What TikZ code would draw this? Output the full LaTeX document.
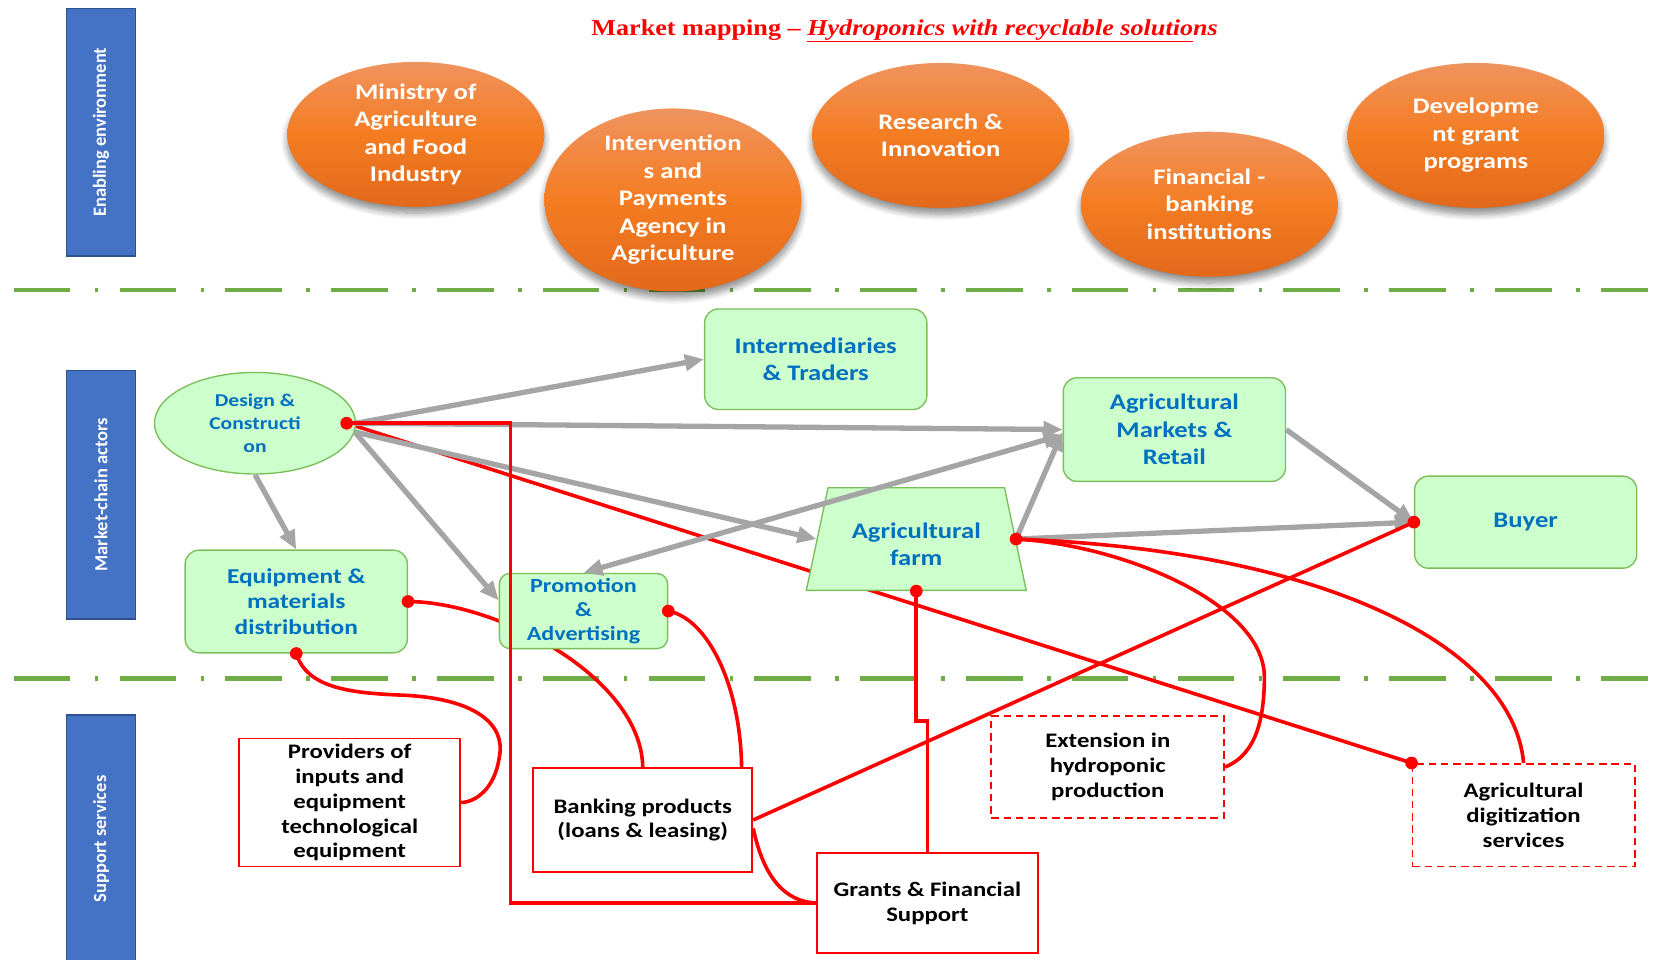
\documentclass[tikz,border=0pt]{standalone}
\usepackage{fontspec}
\usetikzlibrary{shapes.geometric,arrows.meta,shadows,shadows.blur,backgrounds,calc}
\newfontfamily\calib{Carlito}[FakeStretch=1.2]
\newfontfamily\calibn{Carlito}
\newfontfamily\titlefont{Liberation Serif}[FakeStretch=1.15]

\definecolor{barblue}{HTML}{4472C4}
\definecolor{barline}{HTML}{2F528F}
\definecolor{sepgreen}{HTML}{70AD47}
\definecolor{actfill}{HTML}{CCFFCC}
\definecolor{actline}{HTML}{7CBF5A}
\definecolor{acttext}{HTML}{0070C0}
\definecolor{linkgray}{HTML}{A5A5A5}
\definecolor{linkred}{HTML}{FF0000}
\definecolor{ortop}{HTML}{F0935E}
\definecolor{ormid}{HTML}{F47C22}
\definecolor{orbot}{HTML}{E2691B}

\tikzset{
  bar/.style={draw=barline, line width=1.5pt, fill=barblue, rotate=90,
    minimum height=65, inner sep=0, text=white,
    font=\calibn\bfseries\fontsize{17.5}{21}\selectfont},
  sepline/.style={draw=sepgreen, line width=4.5pt,
    dash pattern=on 53.5pt off 23pt on 3.5pt off 20pt},
  heading/.style={text=linkred, font=\titlefont\bfseries\fontsize{21.5}{25}\selectfont},
  envell/.style={ellipse, minimum width=243, minimum height=137, inner sep=0,
    top color=ortop, bottom color=orbot, middle color=ormid,
    text=white, align=center, font=\calib\bfseries\fontsize{21}{26}\selectfont,
    blur shadow={shadow xshift=0pt, shadow yshift=-6pt, shadow blur radius=6pt,
      shadow opacity=45, shadow blur steps=8}},
  actor/.style={draw=actline, line width=1.3pt, fill=actfill, text=acttext,
    align=center, inner sep=0, font=\calib\bfseries\fontsize{21}{26}\selectfont},
  actbox/.style={actor, rectangle, rounded corners=13pt},
  actell/.style={actor, ellipse, minimum width=190, minimum height=96,
    font=\calib\bfseries\fontsize{17}{22}\selectfont},
  actfarm/.style={actor, trapezium, trapezium angle=73.9, trapezium stretches=true,
    minimum width=208, minimum height=97},
  svc/.style={draw=linkred, line width=1.8pt, fill=white, text=black, align=center,
    inner sep=0, font=\calib\bfseries\fontsize{19.5}{23.5}\selectfont},
  svcdash/.style={svc, dash pattern=on 7pt off 4.5pt},
  flow/.style={draw=linkgray, line width=5pt, -{Triangle[length=18pt,width=15pt]}},
  flowboth/.style={flow, {Triangle[length=18pt,width=15pt]}-{Triangle[length=18pt,width=15pt]}},
  link/.style={draw=linkred, line width=3.4pt},
  dot/.style={circle, fill=linkred, inner sep=0, minimum size=12},
}

\begin{document}
\begin{tikzpicture}[x=1pt, y=-1pt]
\useasboundingbox (0,0) rectangle (1568,907);

% title
\node[heading] (title) at (855,29)
  {Market mapping – \textit{\underline{Hydroponics with recyclable solutio}ns}};

% section bars
\node[bar, minimum width=234] (barenv) at (95.5,125) {Enabling environment};
\node[bar, minimum width=235] (baract) at (95.5,467.5) {Market-chain actors};
\node[bar, minimum width=234] (barsup) at (95.5,793) {Support services};

% enabling environment
\node[envell] (ministry) at (393,127) {Ministry of\\Agriculture\\and Food\\Industry};
\node[envell] (agency) at (636,189) {Intervention\\s and\\Payments\\Agency in\\Agriculture};
\node[envell] (research) at (889,128) {Research \&\\Innovation};
\node[envell] (banks) at (1143,193) {Financial -\\banking\\institutions};
\node[envell] (grantsprog) at (1395,128) {Developme\\nt grant\\programs};

% market-chain actors
\node[actell] (design) at (241,400) {Design \&\\Constructi\\on};
\node[actbox, minimum width=210, minimum height=95] (traders) at (771,339.5) {Intermediaries\\\& Traders};
\node[actbox, minimum width=210, minimum height=98] (markets) at (1110,406) {Agricultural\\Markets \&\\Retail};
\node[actbox, minimum width=210, minimum height=87] (buyer) at (1442,493.5) {Buyer};
\node[actfarm] (farm) at (866,509.5)
  {\raisebox{-12pt}[26pt][26pt]{\begin{tabular}{@{}c@{}}Agricultural\\farm\end{tabular}}};
\node[actbox, minimum width=210, minimum height=97,
  font=\calib\bfseries\fontsize{20}{24}\selectfont] (equip) at (280,568.5)
  {Equipment \&\\materials\\distribution};
\node[actbox, minimum width=159, minimum height=71, rounded corners=10pt,
  font=\calib\bfseries\fontsize{19}{22.5}\selectfont] (promo) at (551.5,577.5)
  {Promotion\\\&\\Advertising};

% support services
\node[svc, minimum width=209, minimum height=121] (inputs) at (330.5,758.5)
  {Providers of\\inputs and\\equipment\\technological\\equipment};
\node[svc, minimum width=207, minimum height=98] (banking) at (607.5,775)
  {Banking products\\(loans \& leasing)};
\node[svc, minimum width=209, minimum height=95] (grants) at (876.5,853.5)
  {Grants \& Financial\\Support};
\node[svcdash, minimum width=220, minimum height=96] (extension) at (1047,725)
  {Extension in\\hydroponic\\production};
\node[svcdash, minimum width=210, minimum height=97] (digital) at (1440,770.5)
  {Agricultural\\digitization\\services};

\coordinate (dsrc) at ($(design.east)+(-9,0)$);

% separators and links that pass behind the actor shapes
\begin{scope}[on background layer]
  \draw[sepline] (13,274) -- (1558,274);
  \draw[sepline] (13,641) -- (1558,641);
  \draw[link] (dsrc) -- (digital.north west);
  \draw[link] (equip.east) .. controls (470,569) and (606,640) .. (banking.north);
\end{scope}

% product flows
\draw[flow] (design.east) -- (traders.west);
\draw[flow] (design.east) -- (markets.west);
\draw[flow] (design.-5) -- (farm.west);
\draw[flow] (design.-5) -- ([yshift=10pt]promo.west);
\draw[flow] (design.south) -- (equip.north);
\draw[flowboth] (promo.north) -- ([yshift=-5pt]markets.west);
\draw[flow] (farm.east) -- ([yshift=-2pt]markets.west);
\draw[flow] (markets.east) -- (buyer.west);
\draw[flow] (farm.east) -- (buyer.west);

% support links
\draw[link] (dsrc) -- ++(155,0) |- (grants.west);
\draw[link] (promo.east) .. controls (670,585) and (700,650) .. ([xshift=-11pt]banking.north east);
\draw[link] (equip.south) .. controls (290,650) and (330,655) .. (380,657)
  .. controls (450,660) and (478,685) .. (472,715)
  .. controls (468,745) and (450,758) .. (inputs.east);
\draw[link] (banking.east) -- (buyer.west);
\draw[link] ([yshift=-8pt]banking.east) .. controls (722,830) and (742,852) .. (grants.west);
\draw[link] (farm.south) -- ++(0,123) -| (grants.north);
\draw[link] (farm.east) .. controls (1060,515) and (1195,570) .. (1195,640)
  .. controls (1195,690) and (1182,715) .. (extension.east);
\draw[link] (farm.east) .. controls (1250,520) and (1430,610) .. (digital.north);

% link end points
\node[dot] (dot1) at (dsrc) {};
\node[dot] (dot2) at (equip.east) {};
\node[dot] (dot3) at (equip.south) {};
\node[dot] (dot4) at (promo.east) {};
\node[dot] (dot5) at (farm.south) {};
\node[dot] (dot6) at (farm.east) {};
\node[dot] (dot7) at (buyer.west) {};
\node[dot] (dot8) at (digital.north west) {};
\end{tikzpicture}
\end{document}
